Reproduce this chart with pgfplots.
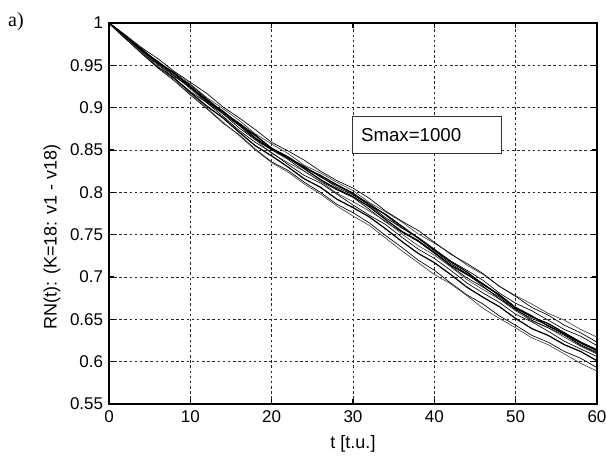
\documentclass[border=0pt]{standalone}
\usepackage{pgfplots}
\pgfplotsset{compat=1.18}
\usepackage{fontspec}
\setmainfont{Liberation Sans}
\newfontfamily\seriffont{Liberation Serif}
\definecolor{lc}{RGB}{70,70,70}
\begin{document}
\begin{tikzpicture}
\useasboundingbox (-65.4pt,-31.2pt) rectangle (298.2pt,242.4pt);
\begin{axis}[
  at={(0,0)}, anchor=south west,
  scale only axis, width=292.8pt, height=228.6pt,
  xmin=0, xmax=60, ymin=0.55, ymax=1,
  xtick={0,10,20,30,40,50,60},
  ytick={0.55,0.6,0.65,0.7,0.75,0.8,0.85,0.9,0.95,1},
  yticklabels={0.55,0.6,0.65,0.7,0.75,0.8,0.85,0.9,0.95,1},
  /pgf/number format/assume math mode=true,
  ticklabel style={font=\fontsize{10.2}{12}\selectfont},
  xticklabel style={yshift=-0.5pt},
  grid=major,
  major grid style={black!85, line width=0.55pt, dash pattern=on 1.5pt off 1.6pt},
  axis line style={black, line width=1pt},
  tick align=inside, major tick length=3pt,
  tick style={black, line width=0.7pt},
  xlabel={t [t.u.]},
  ylabel={RN(t): (K=18: v1 - v18)},
  label style={font=\fontsize{10.8}{13}\selectfont},
  xlabel style={at={(rel axis cs:0.5,-0.105)}, anchor=center},
  ylabel style={at={(rel axis cs:-0.1168,0.438)}, anchor=center},
  cycle list={{lc, solid, line width=0.75pt, mark=none}},
]
\addplot coordinates {(0,1.000)(2,0.985)(4,0.970)(6,0.954)(8,0.942)(10,0.928)(12,0.912)(14,0.899)(16,0.885)(18,0.869)(20,0.857)(22,0.846)(24,0.832)(26,0.823)(28,0.812)(30,0.802)(32,0.788)(34,0.777)(36,0.765)(38,0.751)(40,0.740)(42,0.728)(44,0.714)(46,0.703)(48,0.689)(50,0.678)(52,0.668)(54,0.657)(56,0.649)(58,0.638)(60,0.629)};
\addplot coordinates {(0,1.000)(2,0.983)(4,0.968)(6,0.955)(8,0.940)(10,0.927)(12,0.911)(14,0.895)(16,0.882)(18,0.868)(20,0.852)(22,0.841)(24,0.831)(26,0.819)(28,0.806)(30,0.797)(32,0.785)(34,0.770)(36,0.758)(38,0.747)(40,0.733)(42,0.719)(44,0.708)(46,0.696)(48,0.681)(50,0.669)(52,0.660)(54,0.649)(56,0.638)(58,0.630)(60,0.619)};
\addplot coordinates {(0,1.000)(2,0.985)(4,0.967)(6,0.953)(8,0.941)(10,0.924)(12,0.908)(14,0.895)(16,0.881)(18,0.864)(20,0.851)(22,0.841)(24,0.828)(26,0.815)(28,0.804)(30,0.795)(32,0.783)(34,0.768)(36,0.754)(38,0.743)(40,0.729)(42,0.714)(44,0.703)(46,0.692)(48,0.678)(50,0.663)(52,0.653)(54,0.645)(56,0.634)(58,0.623)(60,0.614)};
\addplot coordinates {(0,1.000)(2,0.984)(4,0.969)(6,0.952)(8,0.937)(10,0.924)(12,0.910)(14,0.893)(16,0.876)(18,0.862)(20,0.850)(22,0.839)(24,0.825)(26,0.813)(28,0.803)(30,0.794)(32,0.780)(34,0.765)(36,0.753)(38,0.742)(40,0.728)(42,0.713)(44,0.699)(46,0.688)(48,0.676)(50,0.661)(52,0.651)(54,0.643)(56,0.632)(58,0.620)(60,0.611)};
\addplot coordinates {(0,1.000)(2,0.983)(4,0.966)(6,0.952)(8,0.939)(10,0.922)(12,0.906)(14,0.893)(16,0.879)(18,0.862)(20,0.846)(22,0.835)(24,0.825)(26,0.813)(28,0.799)(30,0.789)(32,0.778)(34,0.766)(36,0.751)(38,0.737)(40,0.726)(42,0.712)(44,0.697)(46,0.685)(48,0.674)(50,0.660)(52,0.648)(54,0.640)(56,0.629)(58,0.618)(60,0.609)};
\addplot coordinates {(0,1.000)(2,0.983)(4,0.965)(6,0.951)(8,0.935)(10,0.919)(12,0.906)(14,0.890)(16,0.873)(18,0.859)(20,0.847)(22,0.833)(24,0.820)(26,0.811)(28,0.798)(30,0.785)(32,0.773)(34,0.762)(36,0.747)(38,0.733)(40,0.722)(42,0.708)(44,0.693)(46,0.681)(48,0.670)(50,0.656)(52,0.647)(54,0.636)(56,0.624)(58,0.615)(60,0.606)};
\addplot coordinates {(0,1.000)(2,0.982)(4,0.965)(6,0.948)(8,0.935)(10,0.918)(12,0.902)(14,0.888)(16,0.871)(18,0.855)(20,0.843)(22,0.830)(24,0.816)(26,0.806)(28,0.792)(30,0.782)(32,0.771)(34,0.757)(36,0.742)(38,0.728)(40,0.717)(42,0.703)(44,0.688)(46,0.676)(48,0.665)(50,0.651)(52,0.639)(54,0.631)(56,0.620)(58,0.612)(60,0.601)};
\addplot coordinates {(0,1.000)(2,0.982)(4,0.964)(6,0.947)(8,0.932)(10,0.915)(12,0.899)(14,0.882)(16,0.868)(18,0.851)(20,0.836)(22,0.826)(24,0.812)(26,0.800)(28,0.786)(30,0.776)(32,0.764)(34,0.749)(36,0.735)(38,0.720)(40,0.708)(42,0.693)(44,0.679)(46,0.668)(48,0.654)(50,0.643)(52,0.631)(54,0.623)(56,0.612)(58,0.604)(60,0.593)};
\addplot coordinates {(0,1.000)(2,0.983)(4,0.965)(6,0.949)(8,0.933)(10,0.916)(12,0.900)(14,0.883)(16,0.867)(18,0.850)(20,0.835)(22,0.824)(24,0.810)(26,0.798)(28,0.784)(30,0.772)(32,0.761)(34,0.746)(36,0.731)(38,0.717)(40,0.703)(42,0.692)(44,0.678)(46,0.663)(48,0.651)(50,0.640)(52,0.628)(54,0.620)(56,0.609)(58,0.598)(60,0.589)};
\addplot coordinates {(0,1.000)(2,0.986)(4,0.971)(6,0.958)(8,0.943)(10,0.930)(12,0.917)(14,0.901)(16,0.888)(18,0.874)(20,0.859)(22,0.849)(24,0.838)(26,0.825)(28,0.814)(30,0.805)(32,0.793)(34,0.778)(36,0.766)(38,0.755)(40,0.741)(42,0.727)(44,0.716)(46,0.704)(48,0.689)(50,0.677)(52,0.664)(54,0.655)(56,0.643)(58,0.634)(60,0.623)};
\addplot coordinates {(0,1.000)(2,0.984)(4,0.969)(6,0.953)(8,0.941)(10,0.925)(12,0.909)(14,0.896)(16,0.880)(18,0.867)(20,0.852)(22,0.842)(24,0.829)(26,0.820)(28,0.809)(30,0.799)(32,0.785)(34,0.774)(36,0.760)(38,0.746)(40,0.732)(42,0.718)(44,0.706)(46,0.691)(48,0.679)(50,0.664)(52,0.654)(54,0.642)(56,0.633)(58,0.622)(60,0.613)};
\addplot coordinates {(0,1.000)(2,0.983)(4,0.968)(6,0.954)(8,0.938)(10,0.924)(12,0.907)(14,0.893)(16,0.879)(18,0.863)(20,0.851)(22,0.840)(24,0.830)(26,0.818)(28,0.808)(30,0.798)(32,0.787)(34,0.773)(36,0.758)(38,0.746)(40,0.731)(42,0.716)(44,0.704)(46,0.689)(48,0.674)(50,0.662)(52,0.649)(54,0.640)(56,0.631)(58,0.619)(60,0.610)};
\draw[fill=white, draw=black!80, line width=0.6pt] (axis cs:30,0.846) rectangle (axis cs:48.3,0.889);
\node[anchor=west, inner sep=0pt, font=\fontsize{11.2}{13}\selectfont] at (axis cs:30.95,0.8675) {Smax=1000};
\end{axis}
\node[font=\seriffont\fontsize{12}{14}\selectfont] at (-55.8pt,229.2pt) {a)};
\end{tikzpicture}
\end{document}
